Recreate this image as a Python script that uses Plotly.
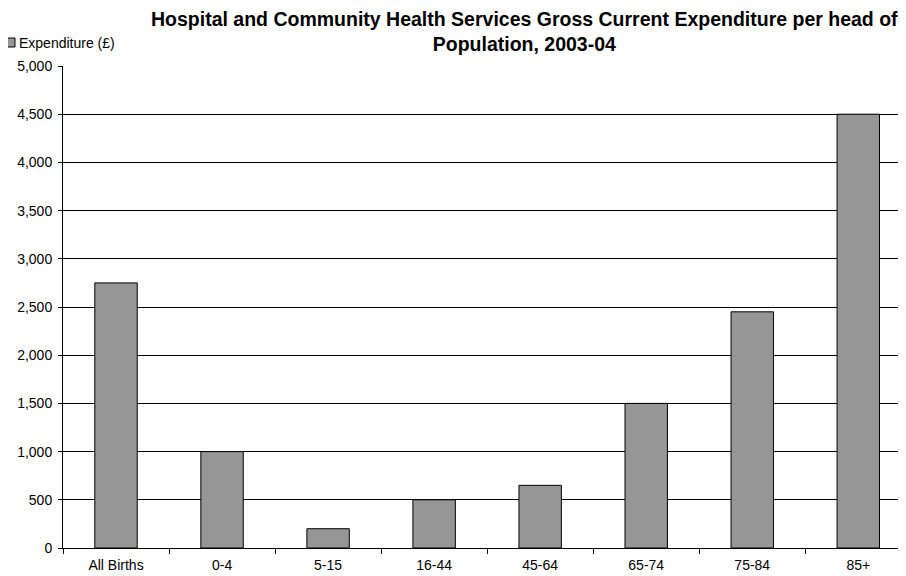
import plotly.graph_objects as go

age_groups = ["All Births", "0-4", "5-15", "16-44", "45-64", "65-74", "75-84", "85+"]
expenditure = [2750, 1000, 200, 500, 650, 1500, 2450, 4500]
y_ticks = list(range(0, 5001, 500))

FONT = "Liberation Sans, Arial, sans-serif"
BAR_GREY = "#969696"

# the page body adds an 8px offset, so the margins are shifted to compensate
fig = go.Figure()
fig.add_trace(go.Bar(x=age_groups, y=expenditure, name="Expenditure (£)", width=0.4,
                     marker=dict(color=BAR_GREY, line=dict(color="black", width=1)),
                     showlegend=False))

fig.update_layout(
    width=906, height=576,
    margin=dict(l=55, r=8, t=58, b=36),
    paper_bgcolor="white", plot_bgcolor="white",
    font=dict(family=FONT, size=14, color="black"),
    xaxis=dict(range=[-0.5, 7.45], showgrid=False, showline=True, linecolor="black", linewidth=1,
               ticks="outside", tickson="boundaries", ticklen=5, tickcolor="black",
               ticklabelstandoff=4, tickfont=dict(size=14)),
    yaxis=dict(range=[0, 5000], tickvals=y_ticks, tickformat=",", showgrid=True,
               gridcolor="black", gridwidth=1, showline=True, linecolor="black", linewidth=1,
               ticks="outside", ticklen=4, tickcolor="black", zeroline=False,
               ticklabelstandoff=3, tickfont=dict(size=14)),
)

# title
fig.add_annotation(text="<b>Hospital and Community Health Services Gross Current Expenditure per head of<br>"
                        "Population, 2003-04</b>",
                   xref="paper", yref="paper", x=(524 - 63) / 843, y=1 + (66 - 31) / 482,
                   showarrow=False, font=dict(size=19.5), xanchor="center", yanchor="middle",
                   align="center")

# legend key
fig.add_shape(type="rect", xref="paper", yref="paper",
              x0=(6 - 63) / 843, x1=(15 - 63) / 843,
              y0=1 + (66 - 47) / 482, y1=1 + (66 - 38) / 482,
              fillcolor=BAR_GREY, line=dict(color="black", width=1))
fig.add_annotation(text="Expenditure (£)", xref="paper", yref="paper",
                   x=(17 - 63) / 843, y=1 + (66 - 43) / 482, showarrow=False,
                   xanchor="left", yanchor="middle", font=dict(size=14))

fig.write_html("out.html")
